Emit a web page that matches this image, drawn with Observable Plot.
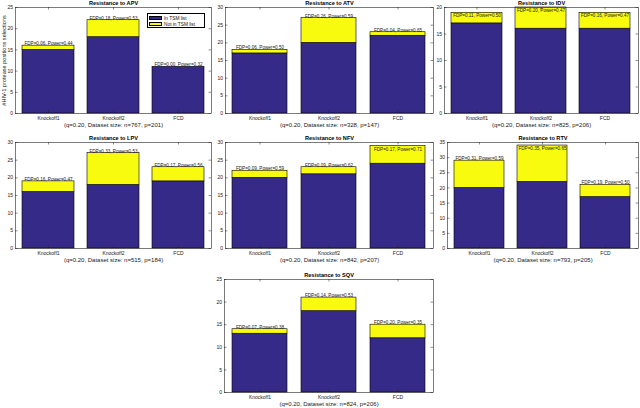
<!DOCTYPE html>
<html><head><meta charset="utf-8">
<script src="https://cdn.jsdelivr.net/npm/d3@7"></script>
<script src="https://cdn.jsdelivr.net/npm/@observablehq/plot@0.6"></script>
<style>
html,body{margin:0;padding:0;background:#fff;}
#fig{position:relative;width:640px;height:408px;overflow:hidden;font-family:"Liberation Sans",Arial,Helvetica,sans-serif;}
#fig svg{position:absolute;overflow:visible;}
.legend{position:absolute;background:#fff;border:0.6px solid #000;font-size:4.8px;color:#111;box-sizing:border-box;}
.legend .row{position:absolute;left:1px;height:5px;display:flex;align-items:center;white-space:nowrap;}
.legend .sw{width:13px;height:4px;border:0.5px solid #000;box-sizing:border-box;margin-right:2px;}
</style></head><body><div id="fig"></div>
<script>
// ---- data ----
const methods = ["Knockoff1", "Knockoff2", "FCD"];
const drugs = ["APV", "ATV", "IDV", "LPV", "NFV", "RTV", "SQV"];
const inTSM = {
  APV: [15, 18, 11], ATV: [17, 20, 22], IDV: [17, 16, 16], LPV: [16, 18, 19],
  NFV: [20, 21, 24], RTV: [20, 22, 17], SQV: [13, 18, 12]
};
const notInTSM = {
  APV: [1, 4, 0], ATV: [1, 7, 1], IDV: [2, 4, 3], LPV: [3, 9, 4],
  NFV: [2, 2, 5], RTV: [9, 12, 4], SQV: [1, 3, 3]
};
const fdp = {
  APV: [0.06, 0.18, 0.00], ATV: [0.06, 0.26, 0.04], IDV: [0.11, 0.20, 0.16], LPV: [0.16, 0.33, 0.17],
  NFV: [0.09, 0.09, 0.17], RTV: [0.31, 0.35, 0.19], SQV: [0.07, 0.14, 0.20]
};
const power = {
  APV: [0.44, 0.53, 0.32], ATV: [0.50, 0.59, 0.65], IDV: [0.50, 0.47, 0.47], LPV: [0.47, 0.53, 0.56],
  NFV: [0.59, 0.62, 0.71], RTV: [0.59, 0.65, 0.50], SQV: [0.38, 0.53, 0.35]
};
const sampleN = {APV: 767, ATV: 328, IDV: 825, LPV: 515, NFV: 842, RTV: 793, SQV: 824};
const sampleP = {APV: 201, ATV: 147, IDV: 206, LPV: 184, NFV: 207, RTV: 205, SQV: 206};
const yMax = {APV: 25, ATV: 30, IDV: 20, LPV: 30, NFV: 30, RTV: 35, SQV: 25};
const qLevel = "0.20";
const yLabel = "#HIV-1 protease positions selections";
const legendLabels = ["In TSM list", "Not in TSM list"];

// ---- layout (frame edges in page pixels: x0, x1, y0, y1) ----
const frames = {
  APV: [15, 211, 7, 113], ATV: [225, 433, 7, 113], IDV: [444, 638, 7, 113],
  LPV: [15, 211, 142, 248], NFV: [225, 433, 142, 248], RTV: [447, 638, 142, 248],
  SQV: [224, 433, 279, 392]
};
const NAVY = "#352a87", YELLOW = "#f9fb0e", INK = "#1a1a1a";
const FONT = '"Liberation Sans", Arial, Helvetica, sans-serif';
const fig = document.getElementById("fig");

function panel(k) {
  const [x0, x1, y0, y1] = frames[k];
  const W = x1 - x0, H = y1 - y0;
  const mL = 16, mR = 4, mT = 10, mB = 18;
  const ymax = yMax[k];
  const rows = methods.map((m, j) => ({
    method: m,
    inTSM: inTSM[k][j],
    notIn: notInTSM[k][j],
    total: inTSM[k][j] + notInTSM[k][j],
    label: `FDP=${fdp[k][j].toFixed(2)}, Power=${power[k][j].toFixed(2)}`
  }));
  const fits = r => r.total + ymax * 0.06 <= ymax;
  const ticks = d3.range(0, ymax + 0.001, 5);
  const marks = [
    Plot.barY(rows, {x: "method", y1: 0, y2: "inTSM", fill: NAVY, stroke: "#000", strokeWidth: 0.6}),
    Plot.barY(rows.filter(r => r.notIn > 0), {x: "method", y1: "inTSM", y2: "total", fill: YELLOW, stroke: "#000", strokeWidth: 0.6}),
    Plot.frame({stroke: "#222", strokeWidth: 0.6}),
    Plot.tickY(ticks, {y: d => d, insetRight: W - 2.5, stroke: "#222", strokeWidth: 0.5}),
    Plot.tickY(ticks, {y: d => d, insetLeft: W - 2.5, stroke: "#222", strokeWidth: 0.5}),
    Plot.tickX(methods, {x: d => d, insetTop: H - 2.5, stroke: "#222", strokeWidth: 0.5}),
    Plot.tickX(methods, {x: d => d, insetBottom: H - 2.5, stroke: "#222", strokeWidth: 0.5}),
    Plot.axisY({ticks, tickSize: 0, tickPadding: 2.5, fontSize: 5, fill: INK, label: null}),
    Plot.axisX({tickSize: 0, tickPadding: 2.6, fontSize: 5, fill: INK, label: null}),
    Plot.text(rows.filter(fits), {x: "method", y: "total", text: "label", lineAnchor: "bottom", dy: -0.5, fontSize: 4.6, fill: INK}),
    Plot.text(rows.filter(r => !fits(r)), {x: "method", y: "total", text: "label", lineAnchor: "top", dy: 1.3, fontSize: 4.6, fill: INK}),
    Plot.text([`Resistance to ${k}`], {text: d => d, frameAnchor: "top", lineAnchor: "middle", dy: -4.3, fontSize: 5.6, fontWeight: "bold", fill: "#000"}),
    Plot.text([`(q=${qLevel}, Dataset size: n=${sampleN[k]}, p=${sampleP[k]})`], {text: d => d, frameAnchor: "bottom", lineAnchor: "middle", dy: 12, fontSize: 6, fill: INK})
  ];
  if (k === "APV") {
    marks.push(Plot.text([yLabel], {text: d => d, frameAnchor: "left", textAnchor: "middle", lineAnchor: "middle", rotate: -90, dx: -11, fontSize: 5.6, fill: INK}));
  }
  const chart = Plot.plot({
    width: W + mL + mR, height: H + mT + mB,
    marginLeft: mL, marginRight: mR, marginTop: mT, marginBottom: mB,
    style: {fontFamily: FONT, fontSize: "5px", background: "transparent", overflow: "visible"},
    x: {domain: methods, paddingInner: 0.2, paddingOuter: 0.1, label: null},
    y: {domain: [0, ymax], label: null},
    marks
  });
  chart.style.left = (x0 - mL) + "px";
  chart.style.top = (y0 - mT) + "px";
  fig.appendChild(chart);
}
drugs.forEach(panel);

// legend (APV panel)
const lg = document.createElement("div");
lg.className = "legend";
Object.assign(lg.style, {left: "147px", top: "13px", width: "58px", height: "15px"});
[NAVY, YELLOW].forEach((c, i) => {
  const row = document.createElement("div");
  row.className = "row";
  row.style.top = (1.8 + i * 6) + "px";
  const sw = document.createElement("div");
  sw.className = "sw";
  sw.style.background = c;
  row.appendChild(sw);
  row.appendChild(document.createTextNode(legendLabels[i]));
  lg.appendChild(row);
});
fig.appendChild(lg);
</script>
</body></html>
